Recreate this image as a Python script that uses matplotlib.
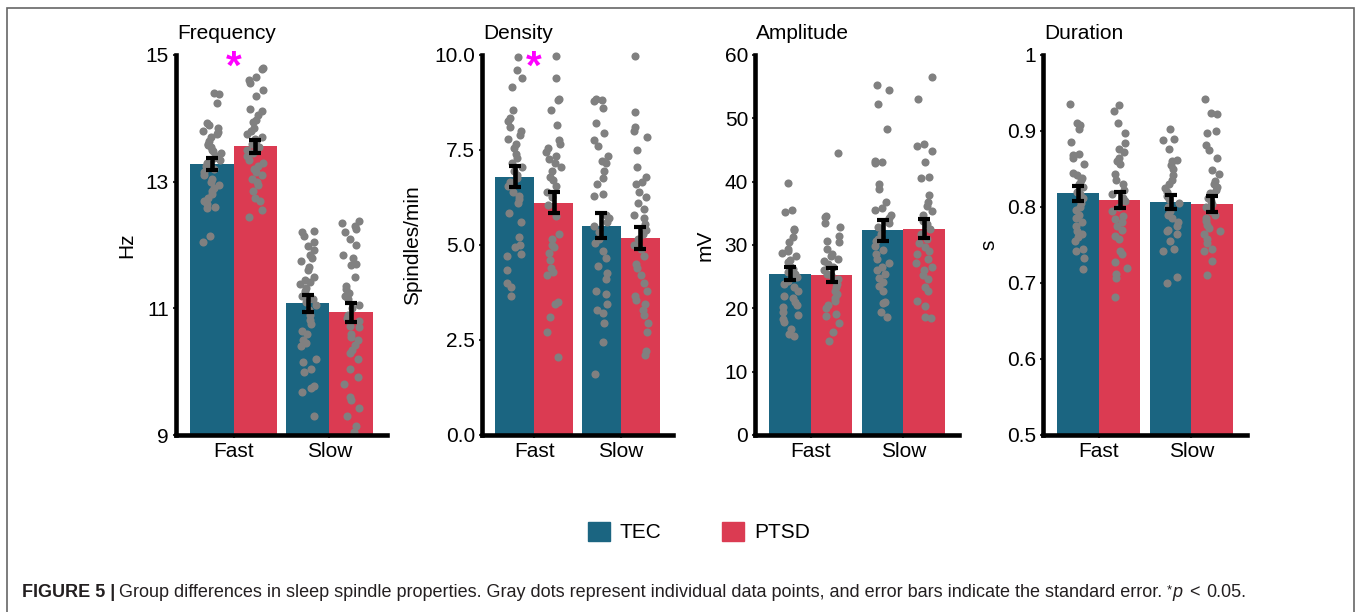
import numpy as np
import matplotlib
matplotlib.use('Agg')
import matplotlib.pyplot as plt
from matplotlib.patches import Patch, Rectangle
import matplotlib.transforms as mtrans

plt.rcParams['font.family'] = ['Liberation Sans', 'DejaVu Sans']

groups = ['TEC', 'PTSD']
kinds = ['Fast', 'Slow']
colors = ['#1b6581', '#db3b52']

titles = ['Frequency', 'Density', 'Amplitude', 'Duration']
ylabels = ['Hz', 'Spindles/min', 'mV', 's']
ylims = [(9, 15), (0, 10), (0, 60), (0.5, 1)]
yticks = [[9, 11, 13, 15], [0, 2.5, 5, 7.5, 10], [0, 10, 20, 30, 40, 50, 60], [0.5, 0.6, 0.7, 0.8, 0.9, 1]]
yticklabels = [['9', '11', '13', '15'], ['0.0', '2.5', '5.0', '7.5', '10.0'],
               ['0', '10', '20', '30', '40', '50', '60'], ['0.5', '0.6', '0.7', '0.8', '0.9', '1']]
significant = [True, True, False, False]  # zvezdica nad Fast

# povprecja in standardne napake (Fast, Slow)
freq_tec_mean = [13.28, 11.08]
freq_ptsd_mean = [13.56, 10.94]
freq_tec_se = [0.10, 0.13]
freq_ptsd_se = [0.10, 0.15]

dens_tec_mean = [6.80, 5.51]
dens_ptsd_mean = [6.11, 5.18]
dens_tec_se = [0.28, 0.32]
dens_ptsd_se = [0.28, 0.29]

ampl_tec_mean = [25.5, 32.3]
ampl_ptsd_mean = [25.3, 32.6]
ampl_tec_se = [1.1, 1.6]
ampl_ptsd_se = [1.1, 1.45]

dur_tec_mean = [0.818, 0.807]
dur_ptsd_mean = [0.809, 0.804]
dur_tec_se = [0.010, 0.009]
dur_ptsd_se = [0.0105, 0.010]

# posamezne tocke
freq_tec_fast = [14.4, 14.38, 14.25, 13.92, 13.9, 13.85, 13.8, 13.78, 13.75, 13.7, 13.65, 13.6, 13.58, 13.55,
                 13.5, 13.48, 13.45, 13.4, 13.38, 13.35, 13.3, 13.25, 13.2, 13.15, 13.1, 13.05, 13.0, 12.95,
                 12.9, 12.85, 12.8, 12.75, 12.7, 12.65, 12.6, 12.58, 12.15, 12.05]
freq_ptsd_fast = [14.8, 14.78, 14.65, 14.6, 14.55, 14.45, 14.35, 14.15, 14.12, 14.05, 13.98, 13.95, 13.85, 13.8,
                  13.75, 13.7, 13.68, 13.65, 13.6, 13.55, 13.5, 13.45, 13.4, 13.35, 13.3, 13.25, 13.2, 13.15,
                  13.1, 13.05, 13.0, 12.95, 12.85, 12.75, 12.7, 12.55, 12.45]
freq_tec_slow = [12.22, 12.2, 12.15, 12.05, 11.98, 11.92, 11.85, 11.8, 11.75, 11.65, 11.6, 11.5, 11.45, 11.42,
                 11.38, 11.32, 11.28, 11.2, 11.15, 11.1, 11.05, 10.98, 10.9, 10.82, 10.75, 10.65, 10.6, 10.5,
                 10.45, 10.4, 10.2, 10.15, 10.05, 10.0, 9.78, 9.75, 9.68, 9.3]
freq_ptsd_slow = [12.38, 12.35, 12.3, 12.25, 12.2, 12.1, 12.0, 11.85, 11.8, 11.7, 11.68, 11.5, 11.35, 11.3,
                  11.25, 11.2, 11.15, 11.05, 11.0, 10.9, 10.85, 10.8, 10.72, 10.7, 10.6, 10.55, 10.5, 10.42,
                  10.35, 10.3, 10.2, 10.05, 9.92, 9.8, 9.6, 9.55, 9.42, 9.3, 9.15, 9.05]

dens_tec_fast = [9.95, 9.6, 9.4, 9.15, 8.55, 8.35, 8.25, 8.1, 8.0, 7.9, 7.8, 7.65, 7.55, 7.4, 7.3, 7.15, 7.05,
                 6.95, 6.85, 6.75, 6.65, 6.55, 6.4, 6.3, 6.2, 6.1, 5.85, 5.6, 5.2, 5.0, 4.95, 4.75, 4.7, 4.35,
                 4.0, 3.9, 3.65]
dens_ptsd_fast = [9.98, 9.4, 8.85, 8.82, 8.55, 8.15, 7.75, 7.65, 7.55, 7.45, 7.35, 7.25, 7.15, 7.05, 6.95, 6.8,
                  6.7, 6.55, 6.4, 6.25, 6.05, 5.75, 5.3, 5.15, 5.0, 4.95, 4.8, 4.6, 4.4, 4.3, 4.2, 3.5, 3.45,
                  3.1, 2.7, 2.05]
dens_tec_slow = [8.85, 8.82, 8.8, 8.6, 8.2, 7.95, 7.75, 7.6, 7.35, 7.2, 7.15, 6.95, 6.75, 6.6, 6.35, 6.3, 5.8,
                 5.7, 5.6, 5.5, 5.35, 5.15, 5.05, 4.85, 4.65, 4.45, 4.25, 4.1, 3.8, 3.7, 3.45, 3.3, 3.2, 2.95,
                 2.45, 1.6]
dens_ptsd_slow = [9.98, 8.5, 8.1, 8.0, 7.85, 7.5, 7.05, 6.8, 6.65, 6.6, 6.4, 6.25, 6.1, 5.95, 5.8, 5.7, 5.55,
                  5.4, 5.3, 5.15, 5.0, 4.9, 4.7, 4.5, 4.4, 4.2, 4.0, 3.8, 3.65, 3.55, 3.45, 3.3, 3.15, 2.95, 2.7,
                  2.2, 2.1]

ampl_tec_fast = [39.8, 35.5, 35.2, 32.6, 32.3, 31.2, 30.5, 29.3, 29.0, 28.8, 28.2, 27.6, 27.3, 26.5, 26.2, 25.8,
                 25.4, 24.9, 24.3, 23.8, 23.3, 22.8, 22.0, 21.6, 21.0, 20.5, 20.2, 19.4, 19.0, 18.3, 17.8, 16.8,
                 15.9, 15.7]
ampl_ptsd_fast = [44.6, 34.6, 34.4, 33.5, 32.8, 31.4, 30.7, 30.5, 29.4, 28.6, 28.2, 27.8, 27.4, 27.0, 26.5, 26.0,
                  25.5, 25.2, 24.7, 24.2, 23.8, 23.4, 22.8, 22.3, 21.7, 21.2, 20.5, 20.1, 19.1, 18.8, 17.7, 16.3,
                  14.9]
ampl_tec_slow = [55.2, 54.5, 52.3, 48.3, 43.2, 43.1, 43.0, 39.6, 38.8, 36.8, 35.8, 35.5, 34.8, 34.2, 33.5, 32.9,
                 31.8, 31.0, 30.6, 29.8, 29.2, 28.5, 27.8, 27.2, 26.5, 26.0, 25.4, 24.8, 24.1, 23.5, 22.8, 21.0,
                 20.8, 19.5, 18.6]
ampl_ptsd_slow = [56.6, 53.0, 46.0, 45.7, 44.8, 43.1, 40.8, 40.6, 37.9, 36.8, 36.2, 35.4, 34.8, 33.8, 33.3, 32.6,
                  31.8, 31.0, 30.3, 29.7, 29.1, 28.5, 27.8, 27.2, 26.6, 26.0, 25.2, 24.6, 23.4, 22.8, 21.1, 20.4,
                  18.7, 18.5]

dur_tec_fast = [0.936, 0.91, 0.908, 0.902, 0.886, 0.87, 0.868, 0.865, 0.856, 0.845, 0.842, 0.838, 0.835, 0.83,
                0.826, 0.82, 0.817, 0.812, 0.805, 0.8, 0.796, 0.79, 0.785, 0.78, 0.775, 0.768, 0.765, 0.76,
                0.755, 0.745, 0.742, 0.733, 0.718]
dur_ptsd_fast = [0.934, 0.926, 0.91, 0.897, 0.884, 0.876, 0.872, 0.865, 0.86, 0.856, 0.843, 0.835, 0.83, 0.822,
                 0.817, 0.812, 0.808, 0.8, 0.795, 0.788, 0.784, 0.78, 0.775, 0.77, 0.762, 0.758, 0.742, 0.738,
                 0.727, 0.72, 0.712, 0.706, 0.681]
dur_tec_slow = [0.902, 0.89, 0.888, 0.876, 0.862, 0.86, 0.855, 0.85, 0.842, 0.835, 0.83, 0.825, 0.82, 0.815,
                0.81, 0.805, 0.8, 0.795, 0.79, 0.785, 0.78, 0.775, 0.77, 0.768, 0.765, 0.755, 0.745, 0.742,
                0.708, 0.7]
dur_ptsd_slow = [0.942, 0.924, 0.922, 0.9, 0.898, 0.881, 0.875, 0.864, 0.849, 0.843, 0.834, 0.83, 0.826, 0.822,
                 0.818, 0.812, 0.808, 0.804, 0.8, 0.795, 0.79, 0.785, 0.782, 0.776, 0.773, 0.768, 0.764, 0.758,
                 0.752, 0.745, 0.742, 0.729, 0.71]

means = [[freq_tec_mean, freq_ptsd_mean], [dens_tec_mean, dens_ptsd_mean],
         [ampl_tec_mean, ampl_ptsd_mean], [dur_tec_mean, dur_ptsd_mean]]
ses = [[freq_tec_se, freq_ptsd_se], [dens_tec_se, dens_ptsd_se],
       [ampl_tec_se, ampl_ptsd_se], [dur_tec_se, dur_ptsd_se]]
points = [[[freq_tec_fast, freq_tec_slow], [freq_ptsd_fast, freq_ptsd_slow]],
          [[dens_tec_fast, dens_tec_slow], [dens_ptsd_fast, dens_ptsd_slow]],
          [[ampl_tec_fast, ampl_tec_slow], [ampl_ptsd_fast, ampl_ptsd_slow]],
          [[dur_tec_fast, dur_tec_slow], [dur_ptsd_fast, dur_ptsd_slow]]]

W, H = 1360, 612
fig = plt.figure(figsize=(W / 100, H / 100), dpi=100)


def px(x, y):
    return x / W, 1 - y / H


# postavitev panelov v pikslih
axes_left = [176, 482, 755, 1043]
axes_width = [211, 191, 204, 204]
top, bottom = 55, 435
ylabel_x = [127, 413, 705, 989]

rng = np.random.default_rng(7)  # samo za jitter
offsets = [-0.225, 0.225]

for k in range(4):
    l, w = axes_left[k], axes_width[k]
    ax = fig.add_axes([l / W, (H - bottom) / H, w / W, (bottom - top) / H])
    for g in range(2):
        xs = np.arange(len(kinds)) + offsets[g]
        ax.bar(xs, means[k][g], width=0.45, color=colors[g], zorder=1)
        for c in range(len(kinds)):
            pts = points[k][g][c]
            jit = rng.uniform(-0.09, 0.09, len(pts))
            ax.scatter(xs[c] + jit, pts, s=34, color='#808080', linewidths=0, zorder=2, clip_on=False)
        ax.errorbar(xs, means[k][g], yerr=ses[k][g], fmt='none', ecolor='black',
                    elinewidth=3.3, capsize=4, capthick=3, zorder=3)
    ax.set_xlim(-0.6, 1.6)
    ax.set_ylim(*ylims[k])
    ax.set_xticks(range(len(kinds)))
    ax.set_xticklabels(kinds)
    ax.set_yticks(yticks[k])
    ax.set_yticklabels(yticklabels[k])
    ax.tick_params(length=2.5, width=1.5, color='#333333', labelsize=15, pad=2.5)
    for s in ['top', 'right']:
        ax.spines[s].set_visible(False)
    for s in ['left', 'bottom']:
        ax.spines[s].set_linewidth(3.3)
        ax.spines[s].set_capstyle('projecting')
        ax.spines[s].set_zorder(4)
    ax.patch.set_alpha(0)

    fig.text(*px(l + 1, 39), titles[k], fontsize=15, ha='left', va='baseline')
    fig.text(*px(ylabel_x[k], 245), ylabels[k], fontsize=15, rotation=90, ha='center', va='center')

    if significant[k]:
        tr = mtrans.blended_transform_factory(ax.transData, ax.transAxes)
        ax.text(0, (bottom - 79) / (bottom - top), '*', color='#ff00ff', fontsize=29, fontweight='bold',
                ha='center', va='baseline', transform=tr, clip_on=False)

# legenda
handles = [Patch(color=colors[g], label=groups[g]) for g in range(2)]
fig.legend(handles=handles, loc='center', bbox_to_anchor=px(699, 532), ncol=2, frameon=False,
           fontsize=15, handlelength=1.05, handleheight=1.05, handletextpad=0.5, columnspacing=2.9)

# okvir
fig.add_artist(Rectangle((7 / W, -0.1), (1354 - 7) / W, 1 - 8 / H + 0.1, transform=fig.transFigure,
                         fill=False, edgecolor='#666666', linewidth=1.2))

# napis pod sliko
renderer = fig.canvas.get_renderer()
parts = [('FIGURE 5 |', 'bold', 'normal', 13, 0, 4),
         ('Group differences in sleep spindle properties. Gray dots represent individual data points, '
          'and error bars indicate the standard error.', 'normal', 'normal', 13, 0, 4),
         ('*', 'normal', 'normal', 9.5, 4, 0.5),
         ('p', 'normal', 'italic', 13, 0, 7),
         ('<', 'normal', 'normal', 13, 0, 7),
         ('0.05.', 'normal', 'normal', 13, 0, 0)]
x = 22
for txt, wt, st, fs, rise, gap in parts:
    t = fig.text(*px(x, 597 - rise), txt, fontsize=fs, fontweight=wt, fontstyle=st,
                 color='#231f20', ha='left', va='baseline')
    bb = t.get_window_extent(renderer)
    x = bb.x1 + gap

fig.savefig('out.png', dpi=100)
